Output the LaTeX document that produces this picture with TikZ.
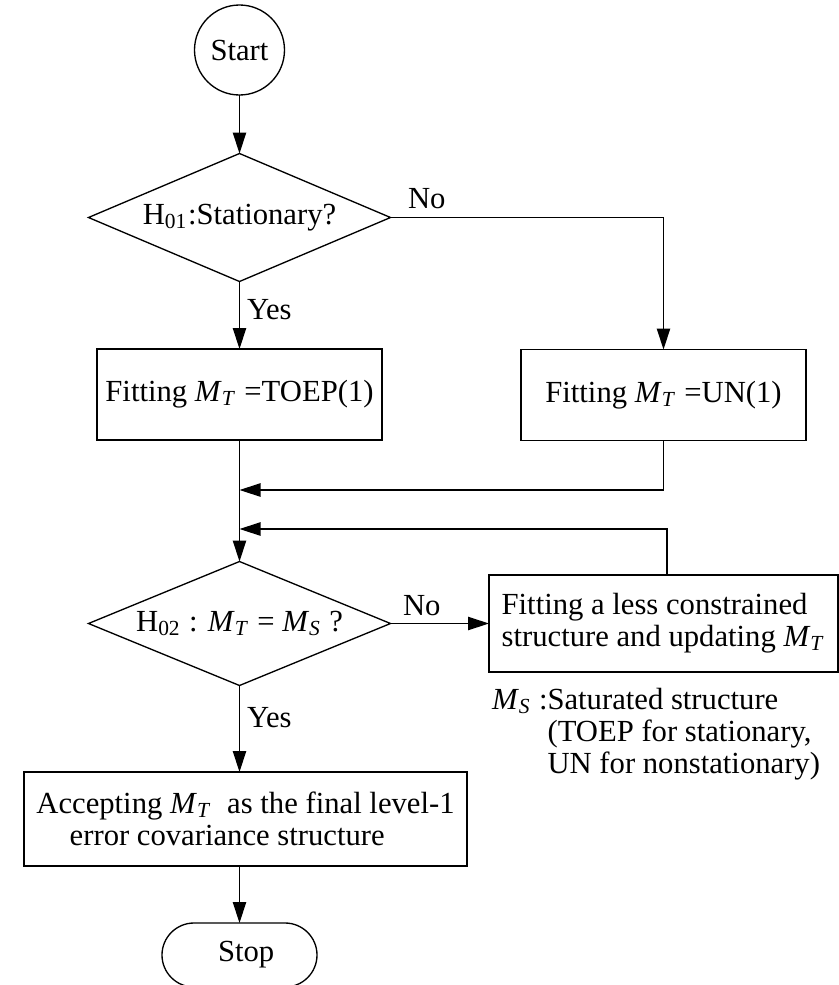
\documentclass[tikz,border=0pt]{standalone}
\usepackage{fontspec}
\setmainfont{Liberation Serif}
\usetikzlibrary{shapes.geometric, arrows.meta}

\newcommand{\MT}{\textit{M}\textsubscript{\textit{T}}}
\newcommand{\MS}{\textit{M}\textsubscript{\textit{S}}}

\begin{document}
\begin{tikzpicture}[x=0.3pt, y=-0.3pt, font=\fontsize{9.2}{9.6}\selectfont,
		every node/.style={inner sep=0pt, outer sep=0pt},
		block/.style={draw, rectangle, minimum width=285*0.3pt, minimum height=91*0.3pt},
		test/.style={draw, diamond, aspect=2.4, minimum width=302*0.3pt}]
		\useasboundingbox (0,0) rectangle (839,985);
		
		\node [draw, circle, minimum size=90*0.3pt] (start) at (239.5,50) {Start};
		\node [test, minimum height=128*0.3pt] (test1) at (239.5,217.5) {H\textsubscript{01}:Stationary?};
		\node [block] (toep) at (239.5,394.5) {Fitting \MT\ =TOEP(1)};
		\node [block] (un) at (663.5,395) {Fitting \MT\ =UN(1)};
		\node [test, minimum height=124*0.3pt] (test2) at (239.5,623.5) {H\textsubscript{02} : \MT{} = \MS{} ?};
		\node [block, minimum width=349*0.3pt, minimum height=97*0.3pt, align=left] (update) at (663.5,623.5)
			{Fitting a less constrained\\structure and updating \MT};
		\node [block, minimum width=443*0.3pt, minimum height=94*0.3pt, align=left] (accept) at (245.5,819)
			{Accepting \MT{}\ \ as the final level-1\\\hspace*{10pt}error covariance structure};
		\node [draw, rounded corners=32*0.3pt, minimum width=155*0.3pt, minimum height=64*0.3pt] (stop) at (239.5,955) {\hspace*{4pt}Stop};
		
		\node [anchor=west] (no1) at (408,199) {No};
		\node [anchor=west] (yes1) at (247,310) {Yes};
		\node [anchor=west] (no2) at (403,606) {No};
		\node [anchor=west] (yes2) at (247,718) {Yes};
		\node [anchor=north west, align=left] (note) at (492,688)
			{\MS{} :Saturated structure\\\phantom{\MS{} :}(TOEP for stationary,\\\phantom{\MS{} :}UN for nonstationary)};
		
		\coordinate (join1) at (239.5,490);
		\coordinate (join2) at (239.5,529);
		
		\begin{scope}[-{Triangle[length=6.3pt, width=4pt]}]
			\draw (start) -- (test1);
			\draw (test1.east) -| (un.north);
			\draw (test1) -- (toep);
			\draw (toep) -- (test2);
			\draw (un.south) |- (join1);
			\draw ([xshift=1pt]update.north) |- (join2);
			\draw (test2) -- (update);
			\draw (test2) -- (test2 |- accept.north);
			\draw (stop |- accept.south) -- (stop);
		\end{scope}
	\end{tikzpicture}
\end{document}
